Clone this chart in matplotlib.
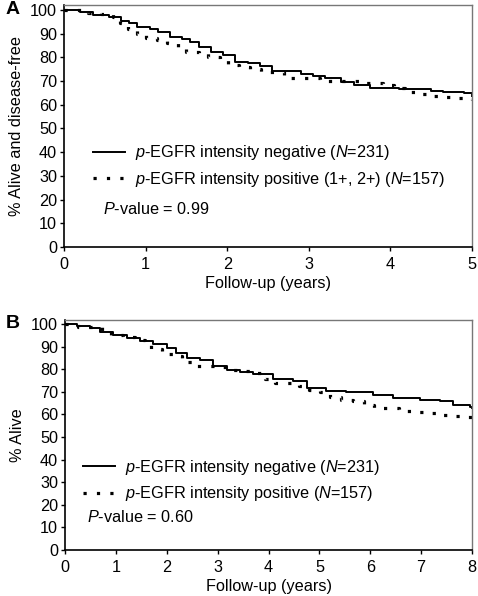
import matplotlib
matplotlib.use("Agg")
import matplotlib.pyplot as plt

plt.rcParams["font.family"] = "Liberation Sans"
plt.rcParams["mathtext.fontset"] = "custom"
plt.rcParams["mathtext.rm"] = "Liberation Sans"
plt.rcParams["mathtext.it"] = "Liberation Sans:italic"
plt.rcParams["font.size"] = 11.7

# Panel A: disease-free survival
a_neg_t = [0, 0.2, 0.35, 0.55, 0.7, 0.8, 0.9, 1.05, 1.15, 1.3, 1.45, 1.55, 1.65, 1.8,
           1.95, 2.1, 2.25, 2.4, 2.55, 2.9, 3.05, 3.2, 3.4, 3.55, 3.75, 4.1, 4.5, 4.65,
           4.9, 5.0]
a_neg_v = [100, 99.3, 98, 97.2, 95.5, 94.4, 92.7, 92, 90.5, 88.7, 87.6, 86.5, 84.5, 82.4,
           81, 78.2, 77.5, 76.5, 74.3, 73, 72, 71.2, 69.8, 68.4, 67, 66.5, 66, 65.5,
           64.9, 63.8]
a_pos_t = [0, 0.3, 0.45, 0.6, 0.69, 0.79, 0.89, 1.0, 1.14, 1.26, 1.4, 1.5, 1.65, 1.77,
           1.91, 2.01, 2.14, 2.28, 2.42, 2.69, 3.14, 3.61, 3.91, 4.04, 4.18, 4.3, 4.46,
           4.61, 4.77, 4.93, 5.0]
a_pos_v = [100, 98.9, 98.3, 96.9, 94.4, 91.8, 89.9, 88.3, 87.3, 85.9, 84.5, 82.1, 81.7,
           80.0, 78.9, 76.8, 76.1, 75.0, 74.0, 71.4, 70.0, 69.1, 68.4, 67.0, 65.5, 64.4,
           63.8, 63.1, 62.7, 62.4, 62.2]

# Panel B: overall survival
b_neg_t = [0, 0.23, 0.49, 0.69, 0.95, 1.21, 1.47, 1.73, 2.0, 2.19, 2.39, 2.65, 2.91,
           3.18, 3.44, 3.7, 4.09, 4.49, 4.75, 5.14, 5.53, 6.06, 6.45, 6.97, 7.37, 7.63,
           7.96, 8.0]
b_neg_v = [100, 99.3, 98.1, 96.6, 95.1, 94.0, 92.6, 91.2, 89.2, 87.0, 84.8, 84.1, 81.6,
           79.6, 78.6, 77.9, 75.5, 74.8, 71.5, 70.5, 70.0, 68.6, 67.1, 66.4, 65.9, 64.2,
           63.2, 63.0]
b_pos_t = [0, 0.26, 0.72, 0.9, 1.14, 1.37, 1.57, 1.7, 1.9, 2.13, 2.3, 2.5, 3.04, 3.27,
           3.5, 3.7, 3.93, 4.13, 4.36, 4.59, 4.79, 5.01, 5.2, 5.43, 5.66, 5.87, 6.08,
           6.34, 6.57, 6.8, 7.06, 7.32, 7.58, 7.81, 8.0]
b_pos_v = [100, 98.8, 97.1, 95.1, 94.4, 92.9, 91.4, 88.8, 86.7, 85.8, 83.3, 81.4, 81.1,
           79.6, 79.2, 78.2, 75.9, 74.0, 73.7, 72.7, 70.8, 69.8, 67.6, 66.4, 66.1, 64.3,
           63.0, 62.7, 61.5, 60.9, 60.5, 59.7, 59.3, 58.7, 58.5]

fig = plt.figure(figsize=(4.78, 5.96), dpi=100)
ax_a = fig.add_axes([64 / 478, 1 - 247 / 596, 408 / 478, 242 / 596])
ax_b = fig.add_axes([65 / 478, 1 - 550 / 596, 407 / 478, 230 / 596])

panels = [
    (ax_a, a_neg_t, a_neg_v, a_pos_t, a_pos_v, 5, 102.1, "% Alive and disease-free",
     r"$\it{p}$-EGFR intensity positive (1+, 2+) ($\it{N}$=157)", "0.99",
     (0.07, 0.428), (0.096, 0.157)),
    (ax_b, b_neg_t, b_neg_v, b_pos_t, b_pos_v, 8, 101.8, "% Alive",
     r"$\it{p}$-EGFR intensity positive ($\it{N}$=157)", "0.60",
     (0.044, 0.40), (0.054, 0.145)),
]

for ax, nt, nv, pt, pv, xmax, ytop, ylab, poslab, pval, leg_xy, p_xy in panels:
    ax.plot(nt, nv, drawstyle="steps-post", color="black", lw=1.4,
            label=r"$\it{p}$-EGFR intensity negative ($\it{N}$=231)")
    ax.plot(pt, pv, drawstyle="steps-post", color="black", lw=2.3,
            linestyle=(0, (1, 3.2)), label=poslab)
    ax.set_xlim(0, xmax)
    ax.set_ylim(0, ytop)
    ax.set_xticks(range(0, xmax + 1))
    ax.set_yticks(range(0, 101, 10))
    ax.tick_params(direction="out", length=3, width=1, pad=2)
    ax.tick_params(axis="x", pad=4)
    for s in ["left", "bottom"]:
        ax.spines[s].set_linewidth(1.2)
    for s in ["top", "right"]:
        ax.spines[s].set_color("#777777")
        ax.spines[s].set_linewidth(1.0)
    ax.set_xlabel("Follow-up (years)", labelpad=3)
    ax.set_ylabel(ylab, labelpad=4)
    ax.legend(loc="upper left", bbox_to_anchor=leg_xy, frameon=False,
              handlelength=2.0, handletextpad=0.6, labelspacing=0.45,
              borderaxespad=0, borderpad=0)
    ax.text(p_xy[0], p_xy[1], r"$\it{P}$-value = " + pval, transform=ax.transAxes,
            va="center", ha="left")

fig.text(6 / 478, 1 - 10 / 596, "A", fontsize=14, fontweight="bold", va="center")
fig.text(6 / 478, 1 - 324 / 596, "B", fontsize=14, fontweight="bold", va="center")

fig.savefig("out.png", dpi=100)
